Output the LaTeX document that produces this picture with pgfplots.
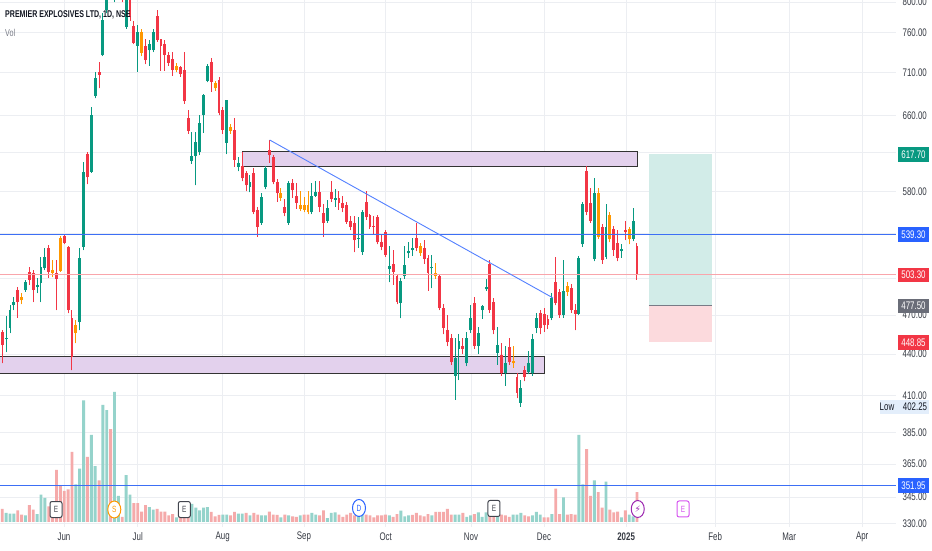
\documentclass[border=0pt]{standalone}
\usepackage{pgfplots}
\pgfplotsset{compat=1.18}
\usepackage{pgfplotstable}
\usepackage{fontspec}
\setmainfont{Liberation Sans}[FakeStretch=0.72]
\newfontfamily\symfont{DejaVu Sans}
\definecolor{cgreen}{HTML}{089981}
\definecolor{cred}{HTML}{F23645}
\definecolor{corange}{HTML}{FF9800}
\definecolor{vgreen}{HTML}{95D3CB}
\definecolor{vred}{HTML}{F5AAAA}
\definecolor{tvblue}{HTML}{2962FF}
\definecolor{lineblue}{HTML}{3D6FF5}
\definecolor{zonefill}{HTML}{E3D1ED}
\definecolor{tpfill}{HTML}{D2ECE8}
\definecolor{slfill}{HTML}{FCDADD}
\definecolor{txt}{HTML}{131722}
\definecolor{gridc}{HTML}{ECEEF2}
\definecolor{entryg}{HTML}{787B86}
\definecolor{boxgray}{HTML}{6A6D78}
\definecolor{lowbg}{HTML}{E3EEFB}
\definecolor{cpurple}{HTML}{9C27B0}
\definecolor{cmagenta}{HTML}{D655F0}
\pgfplotstableread{
i O H L C k V vc
0 456.7 458 433 446.7 1 10 1
1 451 469 441.5 452.5 0 7 0
2 460 478 456 474 0 6.4 0
3 478 485 474 480.5 0 6.4 0
4 490.5 493 468 480.5 1 9 1
5 484.5 488 479 482 2 5.6 1
6 490.5 499 489 497 0 5 0
7 506 510 495 499 1 13 1
8 505 507.5 480.5 490.5 1 9.5 1
9 493 501 488 495 0 6 0
10 496.5 519 480.5 510 0 21 0
11 509 527 507.5 519 0 18.5 0
12 527 529.5 501 506 1 12 1
13 507.5 516 501.5 505 2 10 1
14 505 516 474 500 1 40 1
15 507 538 506 536 2 28 1
16 538 539 530 531.5 1 24 1
17 528 528.5 471.5 474 1 25 1
18 468 474 428 437.5 1 54 1
19 456 466 448 462 2 29 0
20 464.5 527 458 518 0 41 0
21 528 610 525 599.5 0 93.6 0
22 618.5 620.5 587 594 1 50 1
23 599.5 669 598.5 660.5 0 67 0
24 682 710.5 679.5 703 0 43 0
25 710.5 722.5 691 707 1 32 1
26 731 785 730 776 0 90 0
27 790 845 785 830 0 86 0
28 835 850 808 815 1 71.5 1
29 808 855 800 840 0 100 0
30 845 860 812 822 1 20 0
31 822 830 800 808 1 4 1
32 767 825 765 812 0 36 0
33 808 815 775 780 1 21 0
34 768 775 745 747 1 14.6 1
35 743 769 711 760 0 14.6 1
36 760 765 730 734 2 8 1
37 743 752 720 725 1 13 1
38 737 750 718 745 0 11.5 0
39 737 765 735 760 0 9.5 0
40 782 790 748 750 1 10 1
41 751 752 712 743 1 8 1
42 745 750 712 732 1 8 1
43 732 735 718 722 1 5 1
44 727 735 706 713 1 6 1
45 718 722 710 713 2 3.6 0
46 716 718 705 708 1 8 1
47 713 735 673 676 1 12 1
48 657 666 640 643 1 6 1
49 611 642 608 616 0 14 0
50 616 642 586 631 0 11 0
51 620 660 617 652 0 9 0
52 660 685 641 683 0 11 0
53 700 720 698 718 0 11.5 0
54 723 728 687 699 1 7.7 1
55 697 700 688 691 2 4.4 1
56 701 705 660 663 1 5.4 1
57 666 670 640 644 1 5.6 0
58 630 678 618 677 0 5.6 0
59 647 650 640 643 2 5 1
60 644 657 605 612 1 7.7 1
61 605 615 600 609 0 6.4 0
62 606 620 590 593 1 6.4 0
63 598 600 580 586 1 7 1
64 584 596 579 589 0 5 0
65 598 604 558 560 1 7 1
66 562 565 537 546 1 5.6 1
67 550 578 548 575 0 5 0
68 584 606 582 604 0 5 0
69 622 633 609 617 1 8 1
70 615 617 587 589 1 5.6 1
71 589 592 570 578 1 5.4 1
72 578 583 571 574 2 3.6 0
73 565 573 556 559 1 5.6 1
74 550 590 548 588 0 5 0
75 588 592 574 581 1 4.4 1
76 576 588 563 569 1 4 1
77 563 580 561 567 2 5 0
78 567 575 560 562 2 5.6 1
79 567 580 558 560 2 5.6 1
80 560 588 558 576 0 7 0
81 576 590 575 579 0 5.6 0
82 579 590 560 565 1 5 1
83 559 568 537 550 1 9 1
84 552 572 550 564 0 3 0
85 579 590 570 573 1 7 0
86 572 582 565 574 0 7.4 0
87 574 580 562 569 1 5.6 1
88 569 576 560 564 1 4 1
89 567 570 549 551 1 5.6 1
90 552 556 543 546 1 7 1
91 550 556 523 534 1 5 1
92 535 555 527 536 0 5 0
93 523 562 521 560 0 8 0
94 570 580 553 555 1 5.6 1
95 557 558 544 546 1 5 1
96 547 556 540 546 1 3.6 1
97 555 557 530 532 1 5 1
98 532 540 525 528 1 5 1
99 541 543 519 521 1 5.6 1
100 508 529 497 511 0 5 0
101 513 525 495 506 1 4 1
102 502 504 479 481 1 6 1
103 480 501 467.5 498 0 8.7 0
104 502 529 500 512 0 4.4 0
105 522 532 518 524 0 5 0
106 525 536 520 527 0 5.4 1
107 536 550 524 527 1 7 1
108 529 531 520 522 2 5 1
109 527 534 513 517 1 4.4 1
110 518 521 490 505 1 6 1
111 509 521 492 510 0 5 0
112 505 514 500 502 2 7.7 1
113 502 504 474 476 1 7.7 1
114 476 479 455 460 1 7.7 1
115 458 470 446 449 1 10 1
116 452 455 432 434 1 5.6 1
117 424 452 407 437 0 5.6 0
118 444 455 421 450 0 5.6 0
119 446 452 440 444 1 7 1
120 433 457 431 452 0 4 0
121 458 478 456 468 0 5 0
122 480 485 444 446 1 6 1
123 446 461 440 456 0 7.4 0
124 474 478 467 477 0 4 0
125 491 500 490 493 0 7.4 0
126 513 516 472 474 1 8 1
127 481 484 455 458 1 6 1
128 441 461 432 447 0 4.4 0
129 439 448 424 426 1 5.6 1
130 426 446 417 433 0 5 1
131 445 452 432 434 1 4 1
132 435 446 430 433 2 5.6 0
133 423 426 408 412 1 5.6 0
134 405 421 402.25 415 0 7 0
135 428 431 420 423 1 5 1
136 427 442 425 433 0 4.4 1
137 426 455 424 451 0 5 0
138 460 472 456 468 0 7.7 0
139 472 474 455 460 1 5.6 0
140 471 476 457 462 1 3.6 1
141 467 470 459 462 1 3.6 1
142 468 488 466 484 0 6 0
143 497 519 478 480 1 25.6 1
144 489 491 468 470 1 6 1
145 470 516 468 490 0 19 0
146 494 497 486 489 2 5.6 1
147 492 496 472 474 1 6 1
148 474 479 458 471 1 5.6 1
149 471 520 470 518 0 67 0
150 530 570 528 568 0 29 0
151 601 606 557 560 1 56 1
152 569 583 550 552 1 20 1
153 517 593 515 578 0 32 0
154 578 583 535 537 2 23 1
155 546 549 513 516 1 11 1
156 519 568 517 546 0 31 0
157 557 560 532 535 2 9.5 1
158 544 547 520 525 1 7.4 1
159 531 543 515 518 1 8 1
160 524 530 518 526 0 3.6 0
161 543 552 534 541 1 9 1
162 544 546 530 535 2 5.6 0
163 535 564 533 552 0 4.4 0
164 529 531 499 503.3 1 23 1
}\data
\pgfplotsset{
  wick/.style={only marks, mark=*, mark size=0pt, mark options={draw=none, fill=none}, forget plot,
    error bars/y dir=plus, error bars/y explicit, error bars/error mark=none,
    error bars/error bar style={line width=1pt, draw=#1}},
  body/.style={only marks, mark=*, mark size=0pt, mark options={draw=none, fill=none}, forget plot,
    error bars/y dir=plus, error bars/y explicit, error bars/error mark=none,
    error bars/error bar style={line width=2.9pt, draw=#1}},
}
\newcommand\candles[2]{%
  \addplot[restrict expr to domain={\thisrow{k}}{#2}, wick=#1]
    table[x=i, y=L, y error plus expr={\thisrow{H}-\thisrow{L}}]{\data};
  \addplot[restrict expr to domain={\thisrow{k}}{#2}, body=#1]
    table[x=i, y expr={min(\thisrow{O},\thisrow{C})},
      y error plus expr={max(abs(\thisrow{C}-\thisrow{O}),0.9)}]{\data};
}
\begin{document}
\begin{tikzpicture}[font=\fontsize{11}{12}\selectfont]
\useasboundingbox (0,0) rectangle (932pt,550pt);
\fill[white] (0,0) rectangle (932pt,550pt);
% ---- axis 1: grid and tick labels
\begin{axis}[at={(0pt,23pt)}, anchor=south west, width=896pt, height=527pt,
  scale only axis, xmin=-0.594, xmax=230.93, ymode=log, ymin=328, ymax=803,
  axis line style={draw=none}, tick style={draw=none},
  major tick length=0pt,
  ytick={330,345,365,385,410,440,470,500,540,580,620,660,710,760,800},
  yticklabels={330.00,345.00,365.00,385.00,410.00,440.00,470.00,{},{},580.00,{},660.00,710.00,760.00,800.00},
  yticklabel pos=right,
  yticklabel style={anchor=center, xshift=18.7pt, text=txt!85, font=\fontsize{11}{12}\selectfont},
  xtick={15.94,34.99,56.95,77.96,99.07,121.1,139.97,161.2,184.2,203.3,222.2},
  xticklabels={Jun,Jul,Aug,Sep,Oct,Nov,Dec,\textbf{2025},Feb,Mar,Apr},
  xticklabel style={anchor=center, yshift=-10pt, text=txt!85, font=\fontsize{11}{12}\selectfont},
  grid=major, grid style={gridc, line width=0.8pt}]
\addplot[draw=none, forget plot] coordinates {(0,500)};
\end{axis}
% ---- axis 2: volume
\begin{axis}[at={(0pt,23pt)}, anchor=south west, width=896pt, height=527pt,
  scale only axis, xmin=-0.594, xmax=230.93, ymin=-3.85, ymax=401.4, hide axis]
\addplot[ybar, bar width=2.9pt, bar shift=0pt, fill=vgreen, draw=none,
  restrict expr to domain={\thisrow{vc}}{-0.5:0.5}] table[x=i, y=V]{\data};
\addplot[ybar, bar width=2.9pt, bar shift=0pt, fill=vred, draw=none,
  restrict expr to domain={\thisrow{vc}}{0.5:1.5}] table[x=i, y=V]{\data};
\coordinate (mE1) at (axis cs:13.88,9.6);
\coordinate (mS) at (axis cs:28.94,9.6);
\coordinate (mE2) at (axis cs:47.03,9.6);
\coordinate (mD) at (axis cs:92.17,10.8);
\coordinate (mE3) at (axis cs:127.05,10.4);
\coordinate (mL) at (axis cs:164.2,10);
\coordinate (mE4) at (axis cs:175.9,10);
\end{axis}
% ---- axis 3: price drawings
\begin{axis}[at={(0pt,23pt)}, anchor=south west, width=896pt, height=527pt,
  scale only axis, xmin=-0.594, xmax=230.93, ymode=log, ymin=328, ymax=803, hide axis]
\addplot[fill=tpfill, draw=none] coordinates {(167.1,477.5) (183.3,477.5) (183.3,617.7) (167.1,617.7)} -- cycle;
\addplot[fill=slfill, draw=none] coordinates {(167.1,448.85) (183.3,448.85) (183.3,477.5) (167.1,477.5)} -- cycle;
\addplot[draw=entryg, line width=1pt] coordinates {(167.1,477.5) (183.3,477.5)};
\addplot[fill=zonefill, draw=black!80, line width=1.1pt] coordinates {(62,605) (164.2,605) (164.2,620.5) (62,620.5)} -- cycle;
\addplot[fill=zonefill, draw=black!80, line width=1.1pt] coordinates {(-3,425.9) (140.05,425.9) (140.05,437.9) (-3,437.9)} -- cycle;
\candles{cgreen}{-0.5:0.5}
\candles{cred}{0.5:1.5}
\candles{corange}{1.5:2.5}
\addplot[draw=lineblue, line width=1.1pt] coordinates {(-0.594,539.3) (230.93,539.3)};
\addplot[draw=lineblue, line width=1.1pt] coordinates {(-0.594,351.95) (230.93,351.95)};
\addplot[draw=cred!45, line width=1pt] coordinates {(-0.594,503.3) (230.93,503.3)};
\addplot[draw=tvblue!80, line width=0.9pt] coordinates {(69.1,633) (142.3,484)};
\coordinate (l617) at (axis cs:230.93,617.7);
\coordinate (l539) at (axis cs:230.93,539.3);
\coordinate (l503) at (axis cs:230.93,503.3);
\coordinate (l477) at (axis cs:230.93,477.5);
\coordinate (l448) at (axis cs:230.93,448.85);
\coordinate (l402) at (axis cs:230.93,402.25);
\coordinate (l351) at (axis cs:230.93,351.95);
\end{axis}
% ---- price labels
\tikzset{plab/.style={fill=#1, text=white, minimum width=31.5pt, minimum height=14.5pt, inner sep=0pt}}
\node[plab=cgreen] at ([xshift=17.5pt]l617) {617.70};
\node[plab=tvblue] at ([xshift=17.5pt]l539) {539.30};
\node[plab=cred] at ([xshift=17.5pt]l503) {503.30};
\node[plab=boxgray] at ([xshift=17.5pt]l477) {477.50};
\node[plab=cred] at ([xshift=17.5pt]l448) {448.85};
\node[plab=tvblue] at ([xshift=17.5pt]l351) {351.95};
\node[fill=lowbg, minimum width=49pt, minimum height=14pt, inner sep=0pt] at ([xshift=8.5pt]l402) {};
\node[text=txt] at ([xshift=-9pt]l402) {Low};
\node[text=txt] at ([xshift=19pt]l402) {402.25};
% ---- title
\node[anchor=west, inner sep=0pt, text=txt, font=\bfseries\fontsize{9.8}{10}\selectfont] at (5pt,535pt) {PREMIER EXPLOSIVES LTD, 1D, NSE};
\node[anchor=west, inner sep=0pt, text=entryg, font=\fontsize{10}{10}\selectfont] at (5pt,517pt) {Vol};
% ---- event markers
\tikzset{ebox/.style={draw=#1, fill=white, rounded corners=2pt, minimum width=12pt, minimum height=16pt, inner sep=0pt, line width=1pt, text=#1, font=\fontsize{9}{9}\selectfont}}
\node[ebox=txt!80] at (mE1) {E};
\node[ebox=txt!80] at (mE2) {E};
\node[ebox=txt!80] at (mE3) {E};
\node[ebox=cmagenta] at (mE4) {E};
\draw[corange, fill=white, line width=1pt] (mS) ellipse (6.5pt and 8.5pt);
\node[text=corange, font=\fontsize{9}{9}\selectfont] at (mS) {S};
\draw[tvblue, fill=white, line width=1pt] (mD) ellipse (6.5pt and 8.5pt);
\node[text=tvblue, font=\fontsize{9}{9}\selectfont] at (mD) {D};
\draw[cpurple, fill=white, line width=1pt] (mL) ellipse (6.5pt and 8.5pt);
\node[text=cpurple, font=\symfont\fontsize{9}{9}\selectfont] at (mL) {⚡};
\end{tikzpicture}
\end{document}
